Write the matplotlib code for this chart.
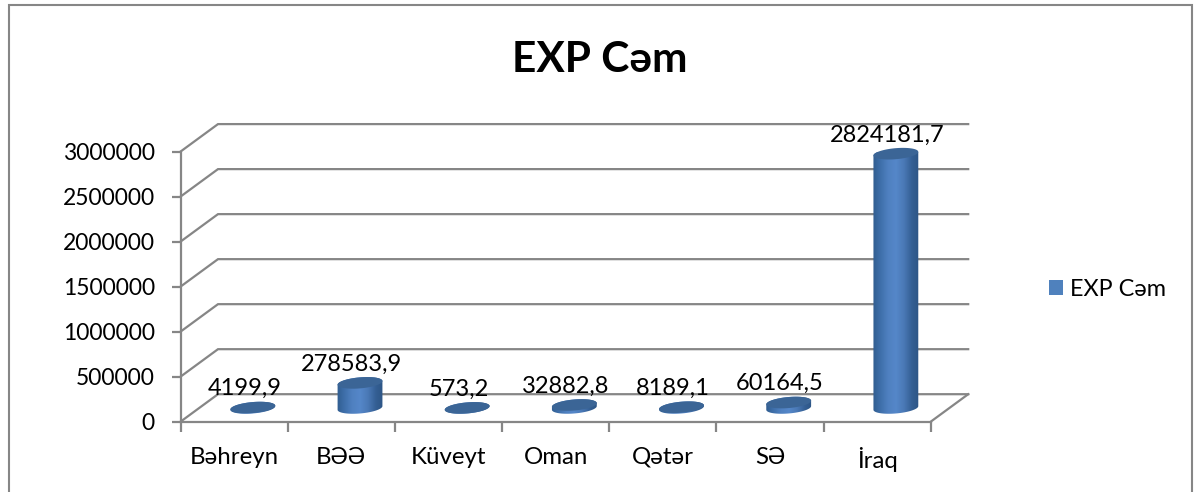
import numpy as np
import matplotlib
matplotlib.use("Agg")
import matplotlib.pyplot as plt
from matplotlib.colors import LinearSegmentedColormap
from matplotlib.patches import Patch, PathPatch, Polygon, Rectangle
from matplotlib.path import Path

plt.rcParams['font.family'] = ['Lato', 'Open Sans', 'DejaVu Sans']

categories = ['Bəhreyn', 'BƏƏ', 'Küveyt', 'Oman', 'Qətər', 'SƏ', 'İraq']
values = [4199.9, 278583.9, 573.2, 32882.8, 8189.1, 60164.5, 2824181.7]
value_labels = ['4199,9', '278583,9', '573,2', '32882,8', '8189,1', '60164,5', '2824181,7']
y_ticks = [0, 500000, 1000000, 1500000, 2000000, 2500000, 3000000]
series_name = 'EXP Cəm'

W, H = 1200, 492
GRAY = '#868686'
LW = 1.6
fig = plt.figure(figsize=(W / 100, H / 100), dpi=100, facecolor='white')
fig.add_artist(Rectangle((8.5 / W, -0.05), (1192 - 8.5) / W, 1.05 - 4.5 / H,
                         transform=fig.transFigure, fill=False,
                         edgecolor=GRAY, linewidth=1.5))

L, R, B, T = 180.5, 930.7, 421.7, 151.6
ax = fig.add_axes([L / W, 1 - B / H, (R - L) / W, (B - T) / H])
ax.set_xlim(-0.5, 6.5)
ax.set_ylim(0, 3000000)
px_x = 7 / (R - L)
px_y = 3000000 / (B - T)
dx = 37.5 * px_x
dy = 27.5 * px_y

# walls and gridlines
for v in y_ticks:
    ax.plot([-0.5, -0.5 + dx, 6.5 + dx], [v, v + dy, v + dy], color=GRAY, lw=LW,
            clip_on=False, zorder=1, solid_joinstyle='miter')
ax.plot([6.5, 6.5 + dx], [0, dy], color=GRAY, lw=LW, clip_on=False, zorder=1)

for s in ('top', 'right'):
    ax.spines[s].set_visible(False)
for s in ('left', 'bottom'):
    ax.spines[s].set_color(GRAY)
    ax.spines[s].set_linewidth(LW)
    ax.spines[s].set_zorder(1.5)

ax.set_yticks(y_ticks)
ax.set_yticklabels([str(v) for v in y_ticks])
ax.tick_params(axis='y', length=6.5, width=LW, color=GRAY, labelsize=16.5, pad=12,
               labelcolor='black')
ax.set_xticks(np.arange(7))
ax.set_xticklabels(categories)
ax.set_xticks(np.arange(-0.5, 7), minor=True)
ax.tick_params(axis='x', which='minor', length=7, width=LW, color=GRAY)
ax.tick_params(axis='x', which='major', length=0, labelsize=17.3, pad=18, labelcolor='black')

# cylinders
a, b, tilt = 22.5, 5.5, np.radians(5)
body_cmap = LinearSegmentedColormap.from_list(
    'body', ['#2f5a8c', '#3d6ea8', '#4f80c0', '#5587c9', '#4a79b6', '#345f94', '#2c5484'])
grad = np.linspace(0, 1, 256)[None, :]


def ring(cx, cy, t):
    ex, ey = a * np.cos(t), b * np.sin(t)
    return (cx + (ex * np.cos(tilt) - ey * np.sin(tilt)) * px_x,
            cy + (ex * np.sin(tilt) + ey * np.cos(tilt)) * px_y)


for i, (v, lab) in enumerate(zip(values, value_labels)):
    cx, base = i + dx / 2, dy / 2
    top = base + v
    lo = np.linspace(np.pi, 2 * np.pi, 60)
    hi = np.linspace(0, np.pi, 60)
    xs = np.r_[ring(cx, base, lo)[0], ring(cx, top, hi)[0]]
    ys = np.r_[ring(cx, base, lo)[1], ring(cx, top, hi)[1]]
    body = PathPatch(Path(np.c_[xs, ys]), transform=ax.transData,
                     facecolor='none', edgecolor='none')
    ax.add_patch(body)
    im = ax.imshow(grad, cmap=body_cmap, aspect='auto', zorder=3,
                   extent=(cx - 24 * px_x, cx + 24 * px_x, ys.min(), ys.max()))
    im.set_clip_path(body)
    t = np.linspace(0, 2 * np.pi, 120)
    ax.add_patch(Polygon(np.c_[ring(cx, top, t)], closed=True, facecolor='#3b6596',
                         edgecolor='none', zorder=4, clip_on=False))
    ax.annotate(lab, xy=(i + 0.095, top), xytext=(0, 13.5), textcoords='offset points',
                ha='center', va='center', fontsize=17, color='black', zorder=5,
                annotation_clip=False)
ax.set_xlim(-0.5, 6.5)
ax.set_ylim(0, 3000000)

fig.text(600 / W, 1 - 59.5 / H, series_name, ha='center', va='center',
         fontsize=30.5, fontweight='bold', color='black')
fig.legend(handles=[Patch(facecolor='#4f81bd', edgecolor='none', label=series_name)],
           loc='center left', bbox_to_anchor=(1049 / W, 1 - 289 / H), frameon=False,
           fontsize=16.8, handlelength=0.6, handleheight=0.6, handletextpad=0.3,
           borderpad=0, borderaxespad=0, labelcolor='black')

fig.savefig('out.png', dpi=100)
